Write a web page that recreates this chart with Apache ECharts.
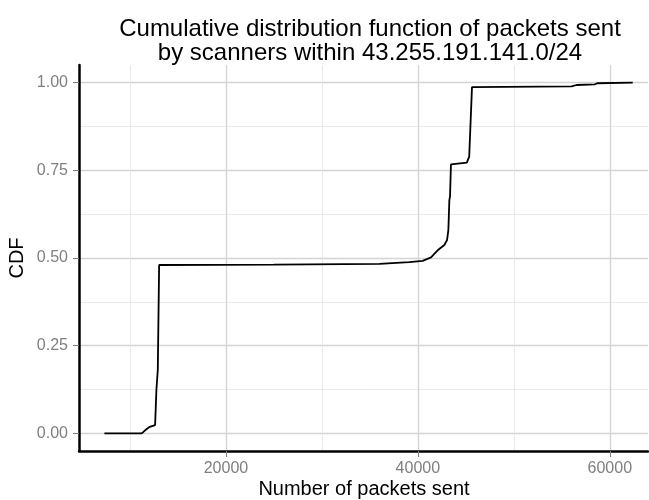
<!DOCTYPE html>
<html>
<head>
<meta charset="utf-8">
<script src="https://cdn.jsdelivr.net/npm/echarts@6/dist/echarts.min.js"></script>
<style>html,body{margin:0;padding:0;background:#fff}#c{width:649px;height:500px}</style>
</head>
<body>
<div id="c"></div>
<script>
// Packets sent (x) and cumulative fraction (y)
const packets = [7340, 11230, 11575, 12065, 12620, 12755, 12900, 13040, 25000, 36000, 39100, 40500, 41370, 42060, 42760, 43040, 43180, 43280, 43350, 43450, 45100, 45350, 45640, 56018, 56540, 58450, 58690, 62390];
const cdf = [0, 0, 0.009, 0.019, 0.024, 0.124, 0.181, 0.480, 0.481, 0.483, 0.488, 0.492, 0.502, 0.522, 0.537, 0.551, 0.580, 0.665, 0.675, 0.767, 0.772, 0.789, 0.987, 0.989, 0.993, 0.995, 0.998, 1.0];
const xMajor = [20000, 40000, 60000];
const xMinor = [10000, 30000, 50000];
const yMajor = [0, 0.25, 0.5, 0.75, 1];
const yMinor = [0.125, 0.375, 0.625, 0.875];

const chart = echarts.init(document.getElementById('c'));
const xMin = 4690, xMax = 63980, yMin = -0.05, yMax = 1.05;
const font = 'Liberation Sans, Arial, sans-serif';
chart.setOption({
  animation: false,
  backgroundColor: '#fff',
  title: {
    text: 'Cumulative distribution function of packets sent\nby scanners within 43.255.191.141.0/24',
    left: 365, top: 12, textAlign: 'center',
    textStyle: {fontFamily: font, fontSize: 24, fontWeight: 'normal', color: '#000', lineHeight: 24.4, align: 'center'}
  },
  grid: {left: 79, right: 1, top: 65, bottom: 49},
  xAxis: [
    {type: 'value', min: xMin, max: xMax,
     axisLine: {show: true, onZero: false, lineStyle: {color: '#000', width: 2.5}},
     axisTick: {show: true, length: 6, customValues: xMajor, lineStyle: {color: '#7f7f7f', width: 1}},
     axisLabel: {customValues: xMajor, color: '#7f7f7f', fontFamily: font, fontSize: 16, margin: 10,
                 formatter: v => String(v)},
     splitLine: {show: true, lineStyle: {color: '#d4d4d4', width: 1.3}}},
    {type: 'value', min: xMin, max: xMax, position: 'bottom',
     axisLine: {show: false}, axisTick: {show: false, customValues: xMinor},
     axisLabel: {show: false, customValues: xMinor},
     splitLine: {show: true, lineStyle: {color: '#e3e3e3', width: 0.8}}}
  ],
  yAxis: [
    {type: 'value', min: yMin, max: yMax,
     axisLine: {show: true, onZero: false, lineStyle: {color: '#000', width: 2.5}},
     axisTick: {show: true, length: 6, customValues: yMajor, lineStyle: {color: '#7f7f7f', width: 1}},
     axisLabel: {customValues: yMajor, color: '#7f7f7f', fontFamily: font, fontSize: 16, margin: 11,
                 formatter: v => v.toFixed(2)},
     splitLine: {show: true, lineStyle: {color: '#d4d4d4', width: 1.3}}},
    {type: 'value', min: yMin, max: yMax, position: 'left',
     axisLine: {show: false}, axisTick: {show: false, customValues: yMinor},
     axisLabel: {show: false, customValues: yMinor},
     splitLine: {show: true, lineStyle: {color: '#e3e3e3', width: 0.8}}}
  ],
  graphic: [
    {type: 'text', x: 17.5, y: 258, rotation: Math.PI / 2,
     style: {text: 'CDF', fontFamily: font, fontSize: 20, fill: '#000', textAlign: 'center', textVerticalAlign: 'middle'}},
    {type: 'text', x: 364, y: 489,
     style: {text: 'Number of packets sent', fontFamily: font, fontSize: 20, fill: '#000', textAlign: 'center', textVerticalAlign: 'middle'}}
  ],
  series: [{
    type: 'line', xAxisIndex: 0, yAxisIndex: 0,
    data: packets.map((p, i) => [p, cdf[i]]),
    showSymbol: false, symbol: 'none',
    lineStyle: {color: '#000', width: 1.8}
  }]
});
</script>
</body>
</html>
